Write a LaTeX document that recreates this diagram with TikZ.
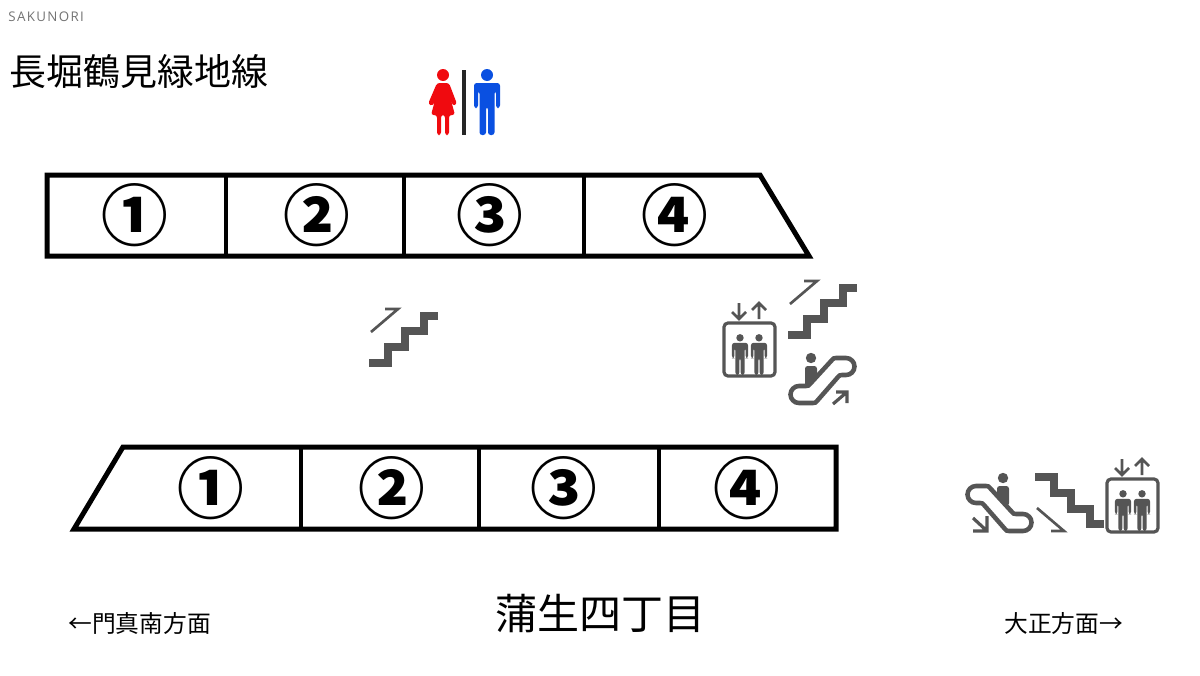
\documentclass[tikz,border=0pt]{standalone}
\usepackage{fontspec}
\setmainfont{Noto Sans CJK JP}
\newfontfamily\logofont[LetterSpace=10]{Open Sans}
\tikzset{every picture/.style={line width=0.75pt}}
\definecolor{iconGray}{RGB}{85,85,85}
\definecolor{ladyRed}{RGB}{240,10,15}
\definecolor{gentBlue}{RGB}{10,80,225}
\tikzset{
  every pic/.style={yscale=-1},
  platform/.style={line width=3.75pt,line join=miter},
  divider/.style={line width=3pt},
  digit/.style={font=\fontsize{50}{50}\selectfont\bfseries,inner sep=0pt},
  caption/.style={font=\fontsize{17.8}{18}\selectfont,inner sep=0pt,anchor=west},
  pics/person/.style={code={
    \fill[#1] (0,-60) circle (6);
    \fill[#1,rounded corners=2] (-13,-27) -- (-13,-52) -- (13,-52) -- (13,-27) -- (9,-27) -- (9,-44) -- (7.5,-44) -- (7.5,0) -- (1,0) -- (1,-28) -- (-1,-28) -- (-1,0) -- (-7.5,0) -- (-7.5,-44) -- (-9,-44) -- (-9,-27) -- cycle;
  }},
  pics/stairsup/.style={code={
    \draw[iconGray,line width=6.2pt] (0,0) -- (19,0) -- (19,-16) -- (36,-16) -- (36,-32) -- (55,-32) -- (55,-47) -- (69,-47);
    \draw[iconGray,line width=2pt] (2,-31) -- (29,-54) -- (16,-54);
  }},
  pics/lift/.style={code={
    \draw[iconGray,line width=2.4pt,rounded corners=3] (0,0) rectangle (51,53);
    \draw[iconGray,line width=2pt] (15,-20) -- (15,-4) (8,-11) -- (15,-4) -- (22,-11);
    \draw[iconGray,line width=2pt] (35,-4) -- (35,-20) (28,-13) -- (35,-20) -- (42,-13);
    \path (16,52) pic[scale=0.62] {person=iconGray};
    \path (35,52) pic[scale=0.62] {person=iconGray};
  }},
  pics/escloop/.style={code={
    \draw[iconGray,line width=3.4pt] (11,32) -- (18,32) .. controls (20,32) and (21,31.5) .. (22,30) -- (44,6) .. controls (45,4.5) and (46,4) .. (48,4) -- (58,4) arc[start angle=-90,end angle=90,radius=8.5] -- (54,21) .. controls (52,21) and (51,21.5) .. (50,23) -- (29,47) .. controls (28,48.5) and (27,49) .. (25,49) -- (11,49) arc[start angle=90,end angle=270,radius=8.5] -- cycle;
  }},
  pics/escrider/.style={code={
    \fill[iconGray] (0,0) circle (5.2);
    \fill[iconGray,rounded corners=2] (-6,8) -- (6,8) -- (6,20) -- (-6,28) -- cycle;
  }}
}

\begin{document}
\begin{tikzpicture}[x=0.75pt,y=0.75pt,yscale=-1,xscale=1]
\useasboundingbox (0,0) rectangle (1200,675);

%Shape: Upper Platform
\draw [platform] (47,175) -- (760,175) -- (809,256) -- (47,256) -- cycle ;
%Straight Lines
\draw [divider] (226,175) -- (226,256) ;
\draw [divider] (404,175) -- (404,256) ;
\draw [divider] (584,175) -- (584,256) ;
%Shape: Lower Platform
\draw [platform] (123,447) -- (836,447) -- (836,529) -- (74,529) -- cycle ;
%Straight Lines
\draw [divider] (301,447) -- (301,529) ;
\draw [divider] (479,447) -- (479,529) ;
\draw [divider] (659,447) -- (659,529) ;

%Shape: Restroom
\path (487,135) pic {person=gentBlue};
\fill [ladyRed] (443,75) circle (6);
\fill [ladyRed,rounded corners=2] (437,83) -- (449,83) -- (457,104) -- (453,106) -- (449,93) -- (455,115) -- (449,115) -- (449,135) -- (445,135) -- (445,115) -- (441,115) -- (441,135) -- (437,135) -- (437,115) -- (431,115) -- (437,93) -- (433,106) -- (428,104) -- cycle;
\draw [color=black!85,line width=3pt] (464,70) -- (464,135) ;

%Shape: Stairs
\path (369,363) pic {stairsup};
\path (788,335) pic {stairsup};
\path (1035,477) pic[yscale=-1] {stairsup};
%Shape: Elevator
\path (724,323) pic {lift};
\path (1107,479) pic {lift};

%Shape: Escalator
\path (788,354) pic {escloop};
\path (811,358) pic {escrider};
\draw [iconGray,line width=2.4pt] (833,404) -- (847,392) (836,392) -- (847,392) -- (847,403) ;
\path (1034,482) pic[xscale=-1] {escloop};
\path (1003,478) pic[xscale=-1] {escrider};
\draw [iconGray,line width=2.4pt] (973,518) -- (987,531) (973,531) -- (987,531) -- (987,516) ;

% Text Node
\draw (8,17) node (logo) [inner sep=0pt,anchor=west,text=black!55,font=\logofont\fontsize{10}{10}\selectfont] {SAKUNORI};
% Text Node
\draw (9,72) node (lineName) [inner sep=0pt,anchor=west,font=\fontsize{27.7}{28}\selectfont] {長堀鶴見緑地線};
% Text Node
\draw (135,215) node (upOne) [digit] {①};
% Text Node
\draw (317,215) node (upTwo) [digit] {②};
% Text Node
\draw (490,215) node (upThree) [digit] {③};
% Text Node
\draw (675,215) node (upFour) [digit] {④};
% Text Node
\draw (211,488) node (lowOne) [digit] {①};
% Text Node
\draw (392,488) node (lowTwo) [digit] {②};
% Text Node
\draw (564,488) node (lowThree) [digit] {③};
% Text Node
\draw (747,488) node (lowFour) [digit] {④};
% Text Node
\draw (495,614) node (stationName) [inner sep=0pt,anchor=west,font=\fontsize{31.5}{32}\selectfont] {蒲生四丁目};
% Text Node
\draw (68,623) node (toLeft) [caption] {←門真南方面};
% Text Node
\draw (1004,623) node (toRight) [caption] {大正方面→};

\end{tikzpicture}
\end{document}
